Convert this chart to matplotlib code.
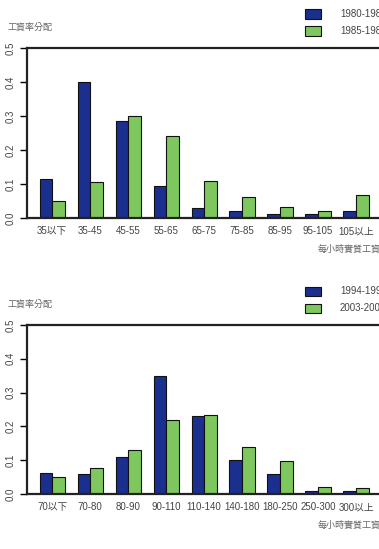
import numpy as np
import matplotlib.pyplot as plt

plt.rcParams['font.family'] = ['Liberation Sans', 'Noto Sans CJK TC']

# top panel
cats_a = ['35以下', '35-45', '45-55', '55-65', '65-75', '75-85', '85-95', '95-105', '105以上']
a_1980 = [0.115, 0.400, 0.285, 0.095, 0.030, 0.020, 0.013, 0.013, 0.020]
a_1985 = [0.050, 0.105, 0.300, 0.240, 0.110, 0.062, 0.032, 0.020, 0.068]
legend_a = ['1980-1982', '1985-1987']

# bottom panel
cats_b = ['70以下', '70-80', '80-90', '90-110', '110-140', '140-180', '180-250', '250-300', '300以上']
b_1994 = [0.063, 0.058, 0.108, 0.350, 0.232, 0.100, 0.058, 0.010, 0.008]
b_2003 = [0.049, 0.078, 0.130, 0.220, 0.233, 0.140, 0.097, 0.020, 0.017]
legend_b = ['1994-1996', '2003-2005']

yticks = [0.0, 0.1, 0.2, 0.3, 0.4, 0.5]
ylab = '工資率分配'
xlab = '每小時實質工資'

BLUE = '#1b2f8e'
GREEN = '#7dc75e'
TXT = '#444444'
FS = 7

W, H = 379, 549
fig = plt.figure(figsize=(W / 100, H / 100), dpi=100)


def panel(top_px, zero_px, cats, s1, s2, labels):
    left = 27 / W
    width = 355 / W
    ax = fig.add_axes([left, 1 - zero_px / H, width, (zero_px - top_px) / H])
    n = len(cats)
    x = np.arange(n) * 3
    ax.bar(x + 1.5, s1, width=1, color=BLUE, edgecolor='#111111', linewidth=0.8)
    ax.bar(x + 2.5, s2, width=1, color=GREEN, edgecolor='#111111', linewidth=0.8)
    ax.set_xlim(0, 28.05)
    ax.set_ylim(0, 0.5)
    ax.set_xticks(x + 2)
    ax.set_xticklabels(cats, fontsize=FS, color=TXT)
    ax.tick_params(axis='x', length=0, pad=6)
    ax.set_yticks(yticks)
    ax.set_yticklabels([f'{v:.1f}' for v in yticks], rotation=90, va='center',
                       fontsize=FS, color=TXT)
    ax.tick_params(axis='y', length=5, width=1, pad=3)
    for s in ax.spines.values():
        s.set_linewidth(1.6)
        s.set_color('#222222')

    # y label above axis
    fig.text(7 / W, 1 - (top_px - 21) / H, ylab, fontsize=6.5, color='#666666',
             va='center', ha='left')
    # x label bottom right
    fig.text(318 / W, 1 - (zero_px + 31) / H, xlab, fontsize=6.5, color='#666666',
             va='center', ha='left')
    # legend
    for k, (lab, col) in enumerate(zip(labels, [BLUE, GREEN])):
        yc = top_px - 34 + 17 * k
        fig.patches.append(plt.Rectangle((305 / W, 1 - (yc + 4.5) / H), 16 / W, 9 / H,
                                         transform=fig.transFigure, facecolor=col,
                                         edgecolor='#111111', linewidth=0.8))
        fig.text(340 / W, 1 - yc / H, lab, fontsize=FS, color=TXT, va='center', ha='left')
    return ax


panel(48, 218, cats_a, a_1980, a_1985, legend_a)
panel(325, 494, cats_b, b_1994, b_2003, legend_b)

fig.savefig('out.png', dpi=100)
